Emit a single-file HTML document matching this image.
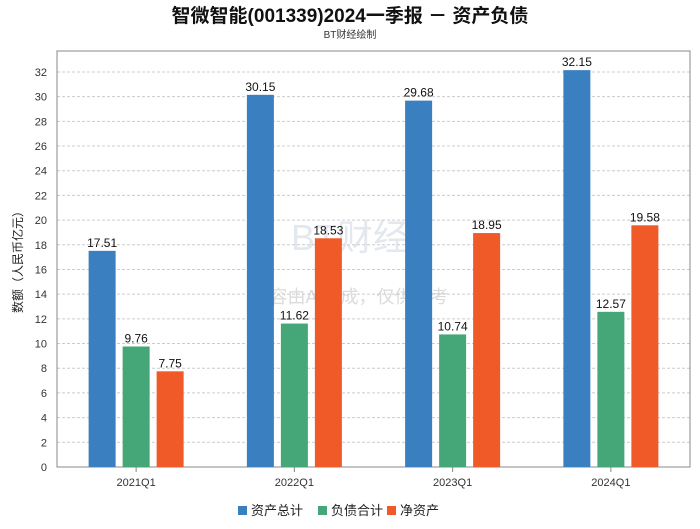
<!DOCTYPE html>
<html><head><meta charset="utf-8"><style>
body{margin:0;background:#fff;font-family:"Liberation Sans","Noto Sans CJK SC",sans-serif}
svg text{font-family:"Liberation Sans","Noto Sans CJK SC",sans-serif}
</style></head><body>
<svg id="c" width="700" height="524">
<text x="350" y="22" text-anchor="middle" font-size="19" font-weight="bold" fill="#111">智微智能(001339)2024一季报 － 资产负债</text>
<text x="350" y="38" text-anchor="middle" font-size="10" fill="#333">BT财经绘制</text>
<text x="350" y="250" text-anchor="middle" font-size="36" fill="#c8d3e0" opacity="0.5" font-family="Liberation Serif,serif">BT财经</text>
<text x="350" y="303" text-anchor="middle" font-size="18" fill="#ccc" opacity="0.7">内容由AI生成，仅供参考</text>
<g id="g"></g>
</svg>
<script>
const categories=["2021Q1","2022Q1","2023Q1","2024Q1"];
const assets=[17.51,30.15,29.68,32.15];
const liabilities=[9.76,11.62,10.74,12.57];
const equity=[7.75,18.53,18.95,19.58];
const yTicks=[0,2,4,6,8,10,12,14,16,18,20,22,24,26,28,30,32];
const seriesNames=["资产总计","负债合计","净资产"];
const colors=["#3a7fbf","#45a777","#f05a28"];
const L=57,R=690,T=51,B=467,yMax=33.7;
const y=v=>B-v/yMax*(B-T);
const gw=(R-L)/categories.length;
const xc=i=>L+gw*(i+0.5);
const g=document.getElementById('g');
const NS="http://www.w3.org/2000/svg";
function mk(t,a){const e=document.createElementNS(NS,t);for(const k in a)e.setAttribute(k,a[k]);g.appendChild(e);return e;}
yTicks.forEach(v=>{
 const l=mk('line',{x1:L,x2:R,y1:y(v),y2:y(v),stroke:'#ccc','stroke-dasharray':'3,2'});
 
 
 const t=mk('text',{x:L-10,y:y(v)+4,'text-anchor':'end','font-size':11,fill:'#333'});t.textContent=v;
 
 
});
const f=mk('rect',{x:L,y:T,width:R-L,height:B-T,fill:'none',stroke:'#888'});


const yt=mk('text',{transform:`translate(22,${(T+B)/2}) rotate(-90)`,'text-anchor':'middle','font-size':12,fill:'#222'});yt.textContent='数额（人民币亿元）';


const data=[assets,liabilities,equity];
categories.forEach((c,i)=>{
 data.forEach((s,j)=>{
  const x=xc(i)+(j-1)*34-13.5;
  const r=mk('rect',{x:x,y:y(s[i]),width:27,height:B-y(s[i]),fill:colors[j]});
  
  
  const t=mk('text',{x:x+13.5,y:y(s[i])-4,'text-anchor':'middle','font-size':12,fill:'#111'});t.textContent=s[i].toFixed(2);
  
  
 });
 const t=mk('text',{x:xc(i),y:B+19,'text-anchor':'middle','font-size':11,fill:'#333'});t.textContent=c;
 
 
 const tk=mk('line',{x1:xc(i),x2:xc(i),y1:B,y2:B+5,stroke:'#888'});
 
 
});
const lx=[238,318,387];
seriesNames.forEach((n,j)=>{
 const r=mk('rect',{x:lx[j],y:506,width:9,height:9,fill:colors[j]});
 
 
 const t=mk('text',{x:lx[j]+13,y:515,'font-size':13,fill:'#222'});t.textContent=n;
 
 
});
</script>
</body></html>
